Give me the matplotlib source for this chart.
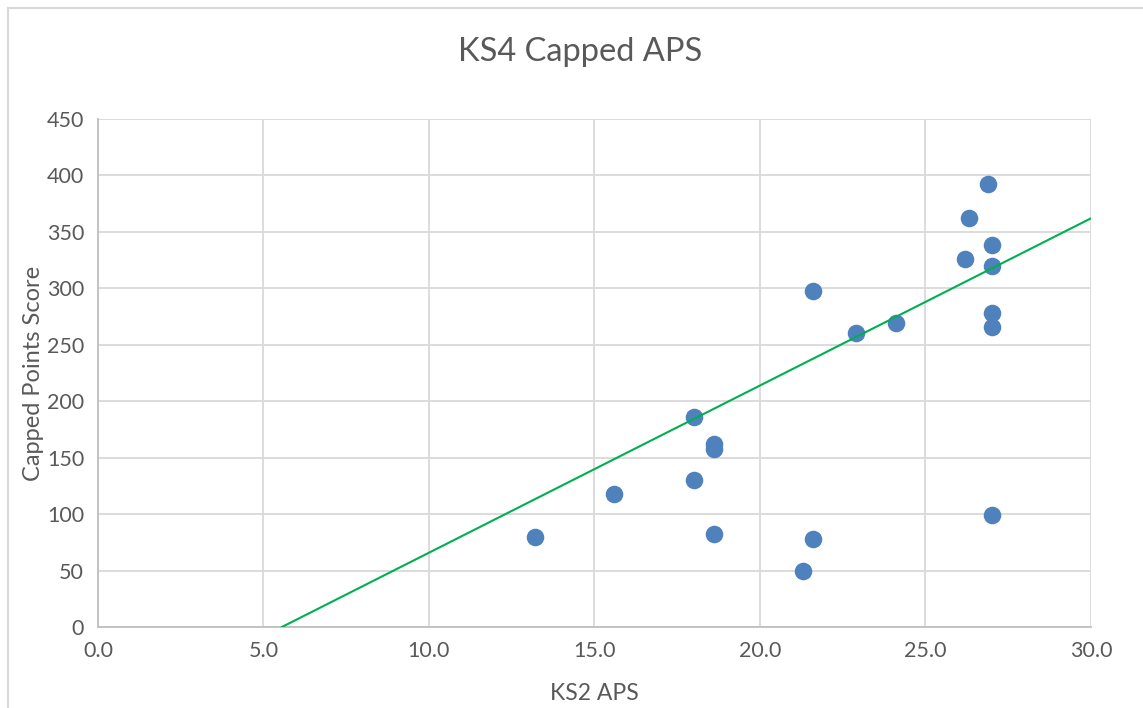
import numpy as np
import matplotlib.pyplot as plt
from matplotlib.patches import Rectangle
from matplotlib.ticker import FormatStrFormatter

# KS2 average point score vs KS4 capped points score
ks2_aps = [13.2, 15.6, 18.0, 18.0, 18.6, 18.6, 18.6, 21.6, 21.6, 21.3,
           22.9, 24.1, 26.2, 26.3, 26.9, 27.0, 27.0, 27.0, 27.0, 27.0]
capped_score = [80, 118, 186, 130, 162, 158, 82, 298, 78, 50,
                260, 269, 326, 362, 392, 338, 320, 278, 266, 99]

# linear trendline as shown on the chart (crosses 0 near 5.56, ~362 at 30)
trend_slope = 14.81
trend_intercept = -82.3

x_ticks = [0, 5, 10, 15, 20, 25, 30]
y_ticks = [0, 50, 100, 150, 200, 250, 300, 350, 400, 450]

text_col = '#595959'
plt.rcParams['font.family'] = ['Lato', 'DejaVu Sans']

fig = plt.figure(figsize=(11.43, 7.08), dpi=100)
ax = fig.add_axes([0.0857, 0.1144, 0.8688, 0.7176])

# outer chart border (right/bottom edge fall outside the image)
fig.patches.append(Rectangle((8 / 1143, -0.1), 1.2, 1 - 8 / 708 + 0.1,
                             transform=fig.transFigure, fill=False,
                             edgecolor='#D9D9D9', linewidth=1.5))

ax.scatter(ks2_aps, capped_score, s=160, color='#4F81BD', zorder=3,
           linewidths=0)

# trendline, extended forward to the axis end
x0 = -trend_intercept / trend_slope
xs = np.array([x0, 30])
ax.plot(xs, trend_slope * xs + trend_intercept, color='#00B050',
        linewidth=1.5, zorder=4)

ax.set_xlim(0, 30)
ax.set_ylim(0, 450)
ax.set_xticks(x_ticks)
ax.set_yticks(y_ticks)
ax.xaxis.set_major_formatter(FormatStrFormatter('%.1f'))
ax.grid(True, color='#D9D9D9', linewidth=1.3)
ax.set_axisbelow(True)
ax.tick_params(length=0, labelsize=15.5, labelcolor=text_col, pad=10)
for side in ['top', 'right']:
    ax.spines[side].set_visible(False)
for side in ['left', 'bottom']:
    ax.spines[side].set_color('#BFBFBF')
    ax.spines[side].set_linewidth(1.3)

fig.text(580 / 1143, 1 - 52 / 708, 'KS4 Capped APS', fontsize=23.5,
         color=text_col, ha='center', va='center')
ax.set_xlabel('KS2 APS', fontsize=16.5, color=text_col, labelpad=16)
ax.set_ylabel('Capped Points Score', fontsize=17, color=text_col, labelpad=2)

fig.savefig('out.png', dpi=100)
